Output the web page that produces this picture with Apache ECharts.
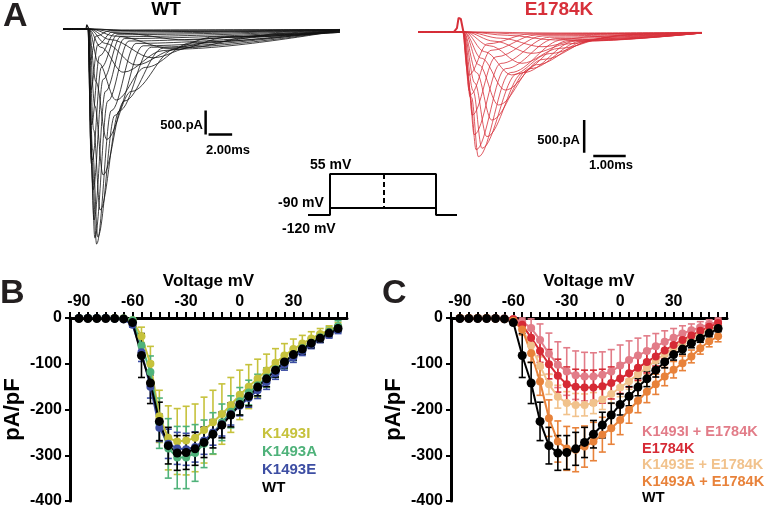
<!DOCTYPE html>
<html>
<head>
<meta charset="utf-8">
<script src="https://cdn.jsdelivr.net/npm/echarts@6/dist/echarts.min.js"></script>
<style>
  html, body { margin: 0; padding: 0; background: #fff; }
  #chart { width: 769px; height: 509px; }
</style>
</head>
<body>
<div id="chart"></div>
<script>
// ---- data ----

// panel A: current traces, [time ms, current pA]
var wtTraces = [
  [[-2,0],[0.3,0],[3,-90],[8.5,-230],[13,-160],[17,-90],[21.5,-60]],
  [[-2,0],[0.3,0],[2.5,-150],[7.1,-400],[11,-260],[16,-120],[21.5,-70]],
  [[-2,0],[0.25,0],[2,-220],[5.6,-600],[9,-380],[14,-160],[21.5,-70]],
  [[-2,0],[0.25,0],[1.6,-300],[4.2,-750],[7.5,-430],[12,-170],[21.5,-60]],
  [[-2,0],[0.2,0],[1.2,-380],[3.1,-900],[6.5,-450],[11,-160],[21.5,-50]],
  [[-2,0],[0.2,0],[1.0,-700],[2.5,-1480],[5,-800],[9,-280],[21.5,-40]],
  [[-2,0],[0.18,0],[0.8,-1100],[1.7,-2300],[3.8,-1300],[7.5,-420],[21.5,-30]],
  [[-2,0],[0.18,0],[0.7,-1600],[1.4,-3040],[3.2,-1500],[6.5,-400],[21.5,-30]],
  [[-2,0],[0.16,0],[0.6,-2100],[1.15,-3770],[2.8,-1700],[5.5,-380],[21.5,-20]],
  [[-2,0],[0.16,0],[0.5,-2500],[0.95,-4330],[2.4,-1800],[4.8,-350],[21.5,-20]],
  [[-2,0],[0.15,0],[0.45,-2700],[0.85,-4480],[2.1,-1700],[4.2,-300],[21.5,-20]],
  [[-2,0],[0.15,0],[0.4,-2800],[0.7,-4350],[1.8,-1500],[3.6,-250],[21.5,-20]],
  [[-2,0],[0.15,0],[0.38,-2700],[0.62,-3980],[1.6,-1300],[3.2,-200],[21.5,-20]],
  [[-2,0],[0.14,0],[0.34,-2300],[0.55,-3350],[1.4,-1050],[2.9,-160],[21.5,-15]],
  [[-2,0],[0.14,0],[0.31,-1900],[0.48,-2730],[1.25,-800],[2.6,-120],[21.5,-15]],
  [[-2,0],[0.13,0],[0.28,-1400],[0.42,-2000],[1.1,-560],[2.4,-90],[21.5,-10]],
  [[-2,0],[0.13,0],[0.24,-900],[0.36,-1270],[0.95,-330],[2.2,-60],[21.5,-10]],
  [[-2,0],[0.12,0],[0.2,-450],[0.3,-650],[0.8,-150],[2,-30],[21.5,-10]],
  [[-2,0],[0.3,0],[4,-40],[10,-50],[21.5,-30]],
  [[-2,0],[0.3,0],[3,-20],[21.5,-10]]
];
var wtArtifact = [[-0.05,0],[0.02,90],[0.12,90],[0.2,0]];

var e1784kTraces = [
  [[-1.25,0],[0.3,0],[1.5,-50],[2.98,-122],[4.2,-70],[5.8,-25],[7.5,-10]],
  [[-1.25,0],[0.25,0],[1.3,-95],[2.57,-225],[3.8,-120],[5.4,-40],[7.5,-10]],
  [[-1.25,0],[0.22,0],[1.1,-140],[2.26,-326],[3.4,-180],[5,-60],[7.5,-10]],
  [[-1.25,0],[0.2,0],[0.95,-210],[1.95,-479],[3.1,-250],[4.7,-80],[7.5,-10]],
  [[-1.25,0],[0.2,0],[0.8,-300],[1.64,-657],[2.8,-330],[4.4,-100],[7.5,-15]],
  [[-1.25,0],[0.18,0],[0.7,-400],[1.44,-887],[2.6,-420],[4.2,-120],[7.5,-15]],
  [[-1.25,0],[0.18,0],[0.62,-500],[1.23,-1116],[2.4,-500],[4,-130],[7.5,-15]],
  [[-1.25,0],[0.16,0],[0.55,-620],[1.02,-1346],[2.2,-560],[3.8,-140],[7.5,-15]],
  [[-1.25,0],[0.16,0],[0.5,-780],[0.87,-1600],[2.0,-620],[3.6,-140],[7.5,-15]],
  [[-1.25,0],[0.15,0],[0.45,-900],[0.72,-1778],[1.8,-640],[3.4,-130],[7.5,-15]],
  [[-1.25,0],[0.15,0],[0.4,-1000],[0.61,-1907],[1.6,-620],[3.2,-120],[7.5,-15]],
  [[-1.25,0],[0.15,0],[0.36,-1000],[0.54,-1800],[1.45,-560],[3,-100],[7.5,-10]],
  [[-1.25,0],[0.14,0],[0.33,-900],[0.48,-1570],[1.3,-480],[2.8,-80],[7.5,-10]],
  [[-1.25,0],[0.14,0],[0.3,-720],[0.42,-1270],[1.15,-380],[2.6,-60],[7.5,-10]],
  [[-1.25,0],[0.13,0],[0.26,-560],[0.36,-960],[1.0,-280],[2.4,-45],[7.5,-10]],
  [[-1.25,0],[0.13,0],[0.23,-380],[0.31,-660],[0.9,-180],[2.2,-30],[7.5,-10]],
  [[-1.25,0],[0.3,0],[2,-30],[7.5,-10]],
  [[-1.25,0],[0.3,0],[3,-15],[7.5,-5]]
];
var e1784kArtifact = [[-0.15,0],[-0.05,60],[0,215],[0.07,200],[0.15,0]];

// scale bars (ms / pA)
var wtScaleV = [[10.1,-1700],[10.1,-2200]];
var wtScaleH = [[10.35,-2200],[12.35,-2200]];
var eScaleV = [[3.87,-1345],[3.87,-1845]];
var eScaleH = [[4.15,-1895],[5.15,-1895]];

// voltage protocol (schematic time, mV)
var protocolStep = [[0,-120],[22,-120],[22,55],[128,55],[128,-120],[149,-120]];
var protocolLow = [[22,-90],[128,-90]];
var protocolDash = [[76,55],[76,-90]];

// panels B and C: current density (pA/pF) vs voltage
var voltages = [-90,-85,-80,-75,-70,-65,-60,-55,-50,-45,-40,-35,-30,-25,-20,-15,-10,-5,0,5,10,15,20,25,30,35,40,45,50,55];

var wtMean = [-1,-1,-1,-1,-1,-2,-10,-82,-142,-226,-279,-295,-294,-286,-272,-254,-234,-212,-189,-171,-151,-133,-114,-96,-80,-68,-55,-44,-33,-23];
var wtErr  = [1,1,1,1,1,1,5,48,45,42,40,38,37,36,33,30,28,26,23,21,19,17,15,13,12,11,10,9,8,7];

var k1493iMean = [0,0,0,0,0,-1,-5,-40,-100,-215,-262,-270,-268,-262,-245,-228,-210,-190,-168,-150,-132,-115,-98,-82,-68,-56,-45,-35,-27,-18];
var k1493iErr  = [0,0,0,0,0,1,3,20,38,57,70,72,75,74,72,70,66,60,54,48,42,36,31,26,22,18,15,12,10,8];

var k1493aMean = [0,0,0,0,-1,-1,-5,-60,-118,-230,-285,-305,-305,-295,-275,-252,-228,-205,-182,-163,-147,-130,-112,-96,-80,-66,-54,-42,-30,-18];
var k1493aErr  = [0,0,0,0,1,1,4,25,35,55,65,68,68,62,52,45,40,35,30,27,24,21,18,15,13,12,11,10,10,12];

var k1493eMean = [0,0,0,0,-1,-3,-15,-75,-150,-240,-275,-285,-287,-282,-268,-250,-232,-210,-192,-175,-158,-140,-120,-102,-86,-72,-58,-46,-36,-26];
var k1493eErr  = [0,0,0,0,1,2,5,20,25,30,32,35,35,33,30,28,26,24,22,20,18,16,14,12,11,10,9,8,8,8];

var e1784kMean = [-1,-1,-1,-1,-1,-2,-3,-15,-43,-72,-101,-126,-145,-150,-152,-152,-149,-142,-132,-121,-109,-96,-84,-71,-59,-48,-38,-28,-19,-11];
var e1784kErr  = [1,1,1,1,1,1,3,10,18,25,32,36,38,38,38,38,37,35,33,30,27,24,21,18,15,13,11,10,9,8];

var iPlusMean = [0,0,0,0,0,-1,-2,-8,-22,-48,-78,-102,-117,-125,-128,-128,-124,-117,-104,-92,-82,-72,-62,-52,-43,-34,-27,-20,-14,-8];
var iPlusErr  = [0,0,0,0,0,1,2,8,20,35,45,50,52,53,53,52,50,48,45,42,38,33,28,24,20,17,14,12,10,8];

var ePlusMean = [0,0,0,0,-1,-2,-5,-25,-60,-105,-145,-172,-186,-190,-190,-186,-178,-166,-152,-138,-123,-108,-93,-79,-66,-54,-43,-33,-25,-17];
var ePlusErr  = [0,0,0,0,1,1,3,10,15,20,22,25,25,25,24,23,22,21,20,18,16,15,13,12,11,10,9,8,8,7];

var aPlusMean = [0,0,0,0,-1,-2,-6,-25,-77,-139,-219,-270,-285,-288,-281,-270,-255,-241,-223,-201,-181,-161,-145,-128,-113,-99,-84,-66,-51,-40];
var aPlusErr  = [0,0,0,0,1,1,3,12,20,30,40,45,48,48,45,42,38,35,32,29,26,24,22,20,18,16,14,13,12,12];

var voltageTicks = [-90, -60, -30, 0, 30];
var legendB = ['K1493I', 'K1493A', 'K1493E', 'WT'];
var legendC = ['K1493I + E1784K', 'E1784K', 'K1493E + E1784K', 'K1493A + E1784K', 'WT'];

// ---- chart ----
var FONT = '"Liberation Sans", Arial, sans-serif';
var RED = '#d7303a';
var myChart = echarts.init(document.getElementById('chart'));

function hiddenAxis(grid, min, max) {
  return { gridIndex: grid, type: 'value', min: min, max: max, show: false, splitLine: { show: false } };
}
function ivX(grid) {
  return {
    gridIndex: grid, type: 'value', position: 'top', min: -95, max: 60, interval: 5,
    axisLine: { onZero: false, lineStyle: { color: '#000', width: 3 } },
    axisTick: { length: 6, lineStyle: { color: '#000', width: 2 } },
    axisLabel: {
      margin: 8, color: '#000', fontSize: 16, fontWeight: 'bold',
      formatter: function (v) { return voltageTicks.indexOf(v) >= 0 ? String(v) : ''; }
    },
    splitLine: { show: false },
    name: 'Voltage mV', nameLocation: 'middle', nameGap: 28,
    nameTextStyle: { color: '#000', fontSize: 17, fontWeight: 'bold' }
  };
}
function ivY(grid) {
  return {
    gridIndex: grid, type: 'value', position: 'left', min: -400, max: 0, interval: 100,
    axisLine: { show: true, onZero: false, lineStyle: { color: '#000', width: 3 } },
    axisTick: { show: true, length: 5, lineStyle: { color: '#000', width: 2 } },
    axisLabel: { margin: 8, color: '#000', fontSize: 16, fontWeight: 'bold' },
    splitLine: { show: false },
    name: 'pA/pF', nameLocation: 'middle', nameGap: 46, nameRotate: 90,
    nameTextStyle: { color: '#000', fontSize: 22, fontWeight: 'bold' }
  };
}

function traceSeries(list, grid, color, width) {
  return list.map(function (tr, i) {
    return {
      name: 'trace' + grid + '_' + i, type: 'line', xAxisIndex: grid, yAxisIndex: grid,
      data: tr, showSymbol: false, smooth: 0.35, smoothMonotone: 'x',
      lineStyle: { color: color, width: width }, silent: true
    };
  });
}
function plainLine(data, grid, color, width, type) {
  return {
    type: 'line', xAxisIndex: grid, yAxisIndex: grid, data: data, showSymbol: false,
    lineStyle: { color: color, width: width, type: type || 'solid' }, silent: true
  };
}
function errSeries(name, grid, mean, err, color) {
  return {
    name: name, type: 'custom', xAxisIndex: grid, yAxisIndex: grid,
    data: voltages.map(function (v, i) { return [v, mean[i], err[i]]; }),
    encode: { x: 0, y: 1 },
    renderItem: function (params, api) {
      var v = api.value(0), m = api.value(1), e = api.value(2);
      if (!e) return;
      var hi = api.coord([v, m + e]), lo = api.coord([v, m - e]);
      var w = 3.5, st = { stroke: color, lineWidth: 1.6 };
      return {
        type: 'group', children: [
          { type: 'line', shape: { x1: hi[0], y1: hi[1], x2: lo[0], y2: lo[1] }, style: st },
          { type: 'line', shape: { x1: hi[0] - w, y1: hi[1], x2: hi[0] + w, y2: hi[1] }, style: st },
          { type: 'line', shape: { x1: lo[0] - w, y1: lo[1], x2: lo[0] + w, y2: lo[1] }, style: st }
        ]
      };
    }
  };
}
function ivSeries(name, grid, mean, color, size) {
  return {
    name: name, type: 'line', xAxisIndex: grid, yAxisIndex: grid,
    data: voltages.map(function (v, i) { return [v, mean[i]]; }),
    symbol: 'circle', symbolSize: size, itemStyle: { color: color },
    lineStyle: { color: color, width: 2 }
  };
}
function ivGroup(name, grid, mean, err, color, size) {
  return [errSeries(name, grid, mean, err, color), ivSeries(name, grid, mean, color, size)];
}

var colB = ['#c6c23c', '#4fb27a', '#3d4ea3', '#000'];
var colC = ['#e27c88', '#d62a35', '#f1c28c', '#e8823a', '#000'];

var series = []
  .concat(traceSeries(wtTraces, 0, '#111', 0.8))
  .concat([plainLine(wtArtifact, 0, '#111', 1.2), plainLine(wtScaleV, 0, '#000', 2.5), plainLine(wtScaleH, 0, '#000', 2.5)])
  .concat(traceSeries(e1784kTraces, 1, RED, 0.8))
  .concat([plainLine(e1784kArtifact, 1, RED, 2), plainLine(eScaleV, 1, '#000', 2.5), plainLine(eScaleH, 1, '#000', 2.5)])
  .concat([plainLine(protocolStep, 2, '#000', 2), plainLine(protocolLow, 2, '#000', 2), plainLine(protocolDash, 2, '#000', 2, [5, 3])])
  .concat(ivGroup(legendB[0], 3, k1493iMean, k1493iErr, colB[0], 8))
  .concat(ivGroup(legendB[1], 3, k1493aMean, k1493aErr, colB[1], 8))
  .concat(ivGroup(legendB[2], 3, k1493eMean, k1493eErr, colB[2], 8))
  .concat(ivGroup(legendB[3], 3, wtMean, wtErr, colB[3], 9))
  .concat(ivGroup(legendC[0], 4, iPlusMean, iPlusErr, colC[0], 8))
  .concat(ivGroup(legendC[2], 4, ePlusMean, ePlusErr, colC[2], 8))
  .concat(ivGroup(legendC[1], 4, e1784kMean, e1784kErr, colC[1], 8))
  .concat(ivGroup(legendC[3], 4, aPlusMean, aPlusErr, colC[3], 8))
  .concat(ivGroup(legendC[4], 4, wtMean, wtErr, colC[4], 9));

function txt(x, y, text, size, color, align) {
  return {
    type: 'text', x: x, y: y, silent: true,
    style: { text: text, fontSize: size, fontWeight: 'bold', fontFamily: FONT, fill: color || '#000',
             align: align || 'left', verticalAlign: 'middle' }
  };
}

var graphics = [
  txt(3, 17, 'A', 34, '#231f20'),
  txt(0, 294, 'B', 34, '#231f20'),
  txt(382, 294, 'C', 34, '#231f20'),
  txt(166, 10, 'WT', 19, '#000', 'center'),
  txt(559, 10, 'E1784K', 19, RED, 'center'),
  txt(203, 125, '500.pA', 13, '#000', 'right'),
  txt(206, 150, '2.00ms', 13),
  txt(580, 140, '500.pA', 13, '#000', 'right'),
  txt(589, 165, '1.00ms', 13),
  txt(310, 165, '55 mV', 14),
  txt(278, 203, '-90 mV', 14),
  txt(282, 229, '-120 mV', 14)
];
// legend labels, coloured like their series
legendB.forEach(function (n, i) { graphics.push(txt(262, 434 + i * 18, n, 15, colB[i])); });
legendC.forEach(function (n, i) { graphics.push(txt(642, 432 + i * 16.6, n, 14.5, colC[i])); });

var option = {
  animation: false,
  backgroundColor: '#fff',
  textStyle: { fontFamily: FONT },
  grid: [
    { left: 63, top: 14.6, width: 277, height: 244.8 },
    { left: 418, top: 12.4, width: 284, height: 150.4 },
    { left: 308, top: 174, width: 149, height: 41 },
    { left: 70, top: 318, width: 277, height: 183 },
    { left: 451, top: 318, width: 276, height: 183 }
  ],
  xAxis: [hiddenAxis(0, -2, 21.5), hiddenAxis(1, -1.25, 7.5), hiddenAxis(2, 0, 149), ivX(3), ivX(4)],
  yAxis: [hiddenAxis(0, -4800, 300), hiddenAxis(1, -2000, 300), hiddenAxis(2, -120, 55), ivY(3), ivY(4)],
  graphic: graphics,
  series: series
};

myChart.setOption(option);
</script>
</body>
</html>
